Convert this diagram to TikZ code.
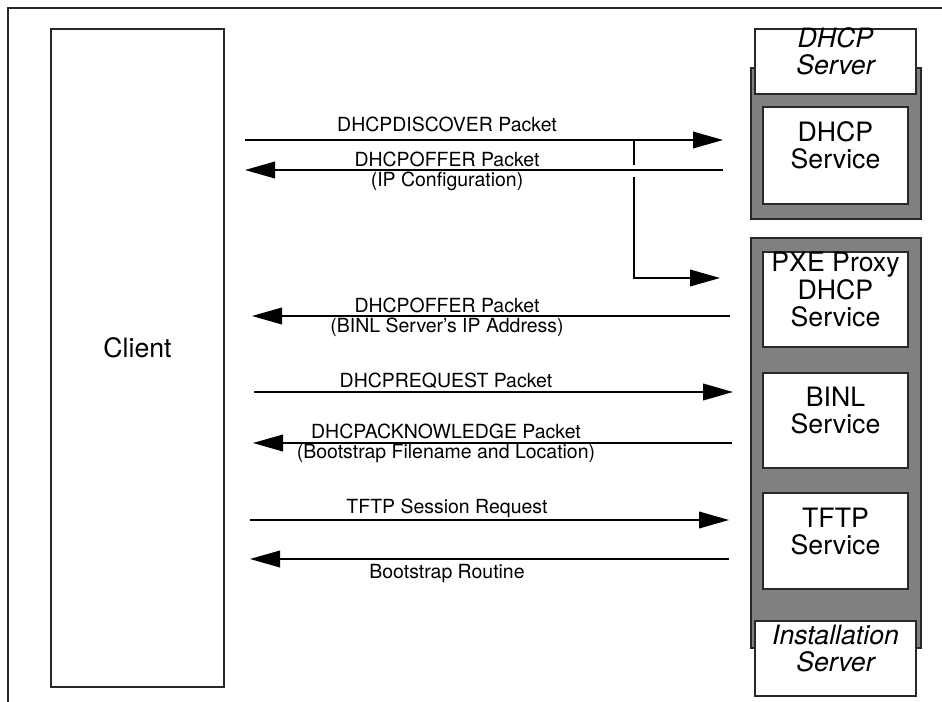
\documentclass[tikz,border=0pt]{standalone}
\usepackage{fontspec}
\setmainfont{TeX Gyre Heros}
\usetikzlibrary{arrows.meta,fit}
\definecolor{panelgray}{RGB}{128,128,128}
\definecolor{edge}{RGB}{40,40,40}
\tikzset{
  box/.style={draw=edge, line width=1.5pt, fill=white, inner sep=0pt,
    align=center, font=\fontsize{20}{20.5}\selectfont},
  header/.style={box, font=\fontsize{20}{20.5}\selectfont\itshape},
  panel/.style={draw=edge, line width=1.5pt, fill=panelgray, inner sep=0pt},
  msg/.style={line width=1.2pt, -{Triangle[length=22.5pt,width=12.5pt]}},
  wire/.style={line width=1.2pt},
  lbl/.style={font=\fontsize{14.6}{15}\selectfont, anchor=base, inner sep=0pt}
}
\begin{document}
\begin{tikzpicture}[x=0.75pt, y=-0.75pt]
  \useasboundingbox (0,0) rectangle (942,702);

  % page frame (top and left edges)
  \draw[line width=0.8pt, edge] (8,702) -- (8,8) -- (942,8);

  % client
  \node[box, fit={(51,29) (224,687)}] (client) {Client};

  % DHCP server panel
  \node[panel, fit={(751,68) (921,219)}] (dhcppanel) {};
  \node[header, fit={(755,29) (916,94)}] (dhcphead) {DHCP\\Server};
  \node[box, fit={(763,107) (908,204)}] (dhcpsvc) {DHCP\\Service};

  % installation server panel
  \node[panel, fit={(751,238) (921,648)}] (instpanel) {};
  \node[box, fit={(763,252) (908,347)}] (pxe) {PXE Proxy\\DHCP\\Service};
  \node[box, fit={(763,373) (908,468)}] (binl) {BINL\\Service};
  \node[box, fit={(763,493) (908,589)}] (tftp) {TFTP\\Service};
  \node[header, fit={(755,621) (916,696)}] (insthead) {Installation\\Server};

  % message end points
  \coordinate (discL) at (245,140);  \coordinate (discR) at (723,140);
  \coordinate (offL)  at (245,170);  \coordinate (offR)  at (723,170);
  \coordinate (brA)   at (634,140);  \coordinate (brB)   at (634,165);
  \coordinate (brC)   at (634,177);  \coordinate (brD)   at (634,278);
  \coordinate (brE)   at (720,278);
  \coordinate (pofL)  at (252,316);  \coordinate (pofR)  at (730,316);
  \coordinate (reqL)  at (254,392);  \coordinate (reqR)  at (733,392);
  \coordinate (ackL)  at (253,443);  \coordinate (ackR)  at (732,443);
  \coordinate (tftL)  at (250,520);  \coordinate (tftR)  at (729,520);
  \coordinate (bootL) at (250,559);  \coordinate (bootR) at (729,559);

  % messages
  \draw[msg] (discL) -- (discR);
  \draw[msg] (offR) -- (offL);
  \draw[wire] (brA) -- (brB);
  \draw[msg] (brC) -- (brD) -- (brE);
  \draw[msg] (pofR) -- (pofL);
  \draw[msg] (reqL) -- (reqR);
  \draw[msg] (ackR) -- (ackL);
  \draw[msg] (tftL) -- (tftR);
  \draw[msg] (bootR) -- (bootL);

  % message labels
  \node[lbl] (t1)  at (447,132) {DHCPDISCOVER Packet};
  \node[lbl] (t2a) at (447,167) {DHCPOFFER Packet};
  \node[lbl] (t2b) at (447,187) {(IP Configuration)};
  \node[lbl] (t3a) at (447,312) {DHCPOFFER Packet};
  \node[lbl] (t3b) at (447,332) {(BINL Server’s IP Address)};
  \node[lbl] (t4)  at (446,387) {DHCPREQUEST Packet};
  \node[lbl] (t5a) at (446,438) {DHCPACKNOWLEDGE Packet};
  \node[lbl] (t5b) at (446,458) {(Bootstrap Filename and Location)};
  \node[lbl] (t6)  at (447,513) {TFTP Session Request};
  \node[lbl] (t7)  at (447,578) {Bootstrap Routine};
\end{tikzpicture}
\end{document}
